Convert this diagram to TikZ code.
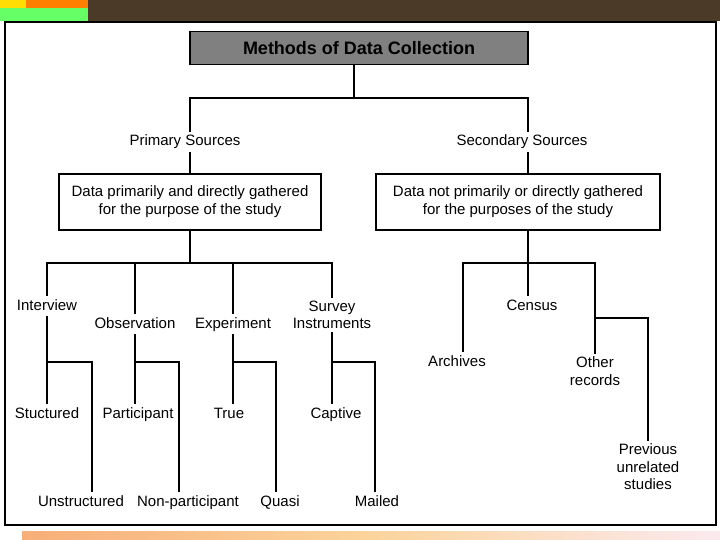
\documentclass[tikz,border=0pt]{standalone}
\usepackage{fontspec}
\setmainfont{Liberation Sans}
\usepackage{xcolor}
\usetikzlibrary{positioning}
\definecolor{wood}{HTML}{4B3A28}
\definecolor{sandorange}{HTML}{F8AE78}
\definecolor{sandlight}{HTML}{FBD49C}
\definecolor{sandpink}{HTML}{FBE9EF}

\begin{document}
\begin{tikzpicture}[x=1pt,y=-1pt,
txt/.style={align=center, inner sep=3pt, font=\fontsize{15}{17.5}\selectfont},
word/.style={txt, text height=11pt, text depth=3pt},
srcbox/.style={draw, line width=1.6pt, align=center, minimum width=262pt, minimum height=56pt, font=\fontsize{15}{18}\selectfont},
titlebox/.style={draw, line width=1.2pt, fill=gray, minimum width=338pt, minimum height=33pt, font=\bfseries\fontsize{18}{20}\selectfont},
thinline/.style={line width=1.1pt},
branch/.style={line width=2.2pt}
]
\useasboundingbox (0,0) rectangle (720,540);
% slide background
\fill[wood] (0,0) rectangle (720,21);
\fill[yellow!80!orange] (0,0) rectangle (26,8);
\fill[orange] (26,0) rectangle (88,8);
\fill[green!60] (0,8) rectangle (88,21);
\shade[left color=sandorange, right color=sandpink, middle color=sandlight] (22,531) rectangle (720,540);
\draw[line width=1.5pt, fill=white] (5,22) rectangle (716,525);

\node[titlebox] (title) at (359,48) {Methods of Data Collection};
\node[word] (prim) at (185,142) {Primary Sources};
\node[word] (sec) at (522,142) {Secondary Sources};
\node[srcbox] (pbox) at (190,202) {Data primarily and directly gathered\\for the purpose of the study};
\node[srcbox, minimum width=284pt] (sbox) at (518,202) {Data not primarily or directly gathered\\for the purposes of the study};
\coordinate (top) at (354,98);
\coordinate (pl) at (190,142);
\coordinate (sl) at (528,142);
\draw[thinline] (title.south -| top) -- (top);
\draw[thinline] (prim.north -| pl) |- (top) -| (sec.north -| sl);
\draw[thinline] (prim.south -| pl) -- (pbox.north -| pl);
\draw[thinline] (sec.south -| sl) -- (sbox.north -| sl);

% primary sources
\coordinate (ph) at (190,263);
\node[word] (intv) at (47,306) {Interview};
\node[word] (obs) at (135,324) {Observation};
\node[word] (expt) at (233,324) {Experiment};
\node[txt] (surv) at (332,315) {Survey\\Instruments};
\draw[branch] (pbox.south -| ph) -- (ph);
\draw[branch] (intv.north) |- (ph) -| (surv.north);
\draw[branch] (obs.north) -- (obs.north |- ph);
\draw[branch] (expt.north) -- (expt.north |- ph);

\node[word] (strd) at (47,414) {Stuctured};
\node[word] (unstr) at (81,502) {Unstructured};
\node[word] (part) at (138,414) {Participant};
\node[word] (npart) at (188,502) {Non-participant};
\node[word] (truex) at (229,414) {True};
\node[word] (quasi) at (280,502) {Quasi};
\node[word] (capt) at (336,414) {Captive};
\node[word] (mail) at (377,502) {Mailed};
\draw[branch] (intv.south) -- (intv.south |- strd.north);
\draw[branch] (intv.south |- 0,362) -| ([xshift=11pt]unstr.north);
\draw[branch] (obs.south) -- (obs.south |- part.north);
\draw[branch] (obs.south |- 0,362) -| ([xshift=-9pt]npart.north);
\draw[branch] (expt.south) -- (expt.south |- truex.north);
\draw[branch] (expt.south |- 0,362) -| ([xshift=-4pt]quasi.north);
\draw[branch] (surv.south) -- (surv.south |- capt.north);
\draw[branch] (surv.south |- 0,362) -| ([xshift=-2pt]mail.north);

% secondary sources
\coordinate (sh) at (528,263);
\node[word] (cens) at (532,306) {Census};
\node[word] (arch) at (457,362) {Archives};
\node[txt] (other) at (595,371) {Other\\records};
\node[txt] (prev) at (648,467) {Previous\\unrelated\\studies};
\draw[branch] (sh |- sbox.south) -- (sh |- cens.north);
\draw[branch] ([xshift=6pt]arch.north) |- (sh) -| (other.north);
\draw[thinline] (other.north |- 0,318) -| (prev.north);
\end{tikzpicture}
\end{document}
